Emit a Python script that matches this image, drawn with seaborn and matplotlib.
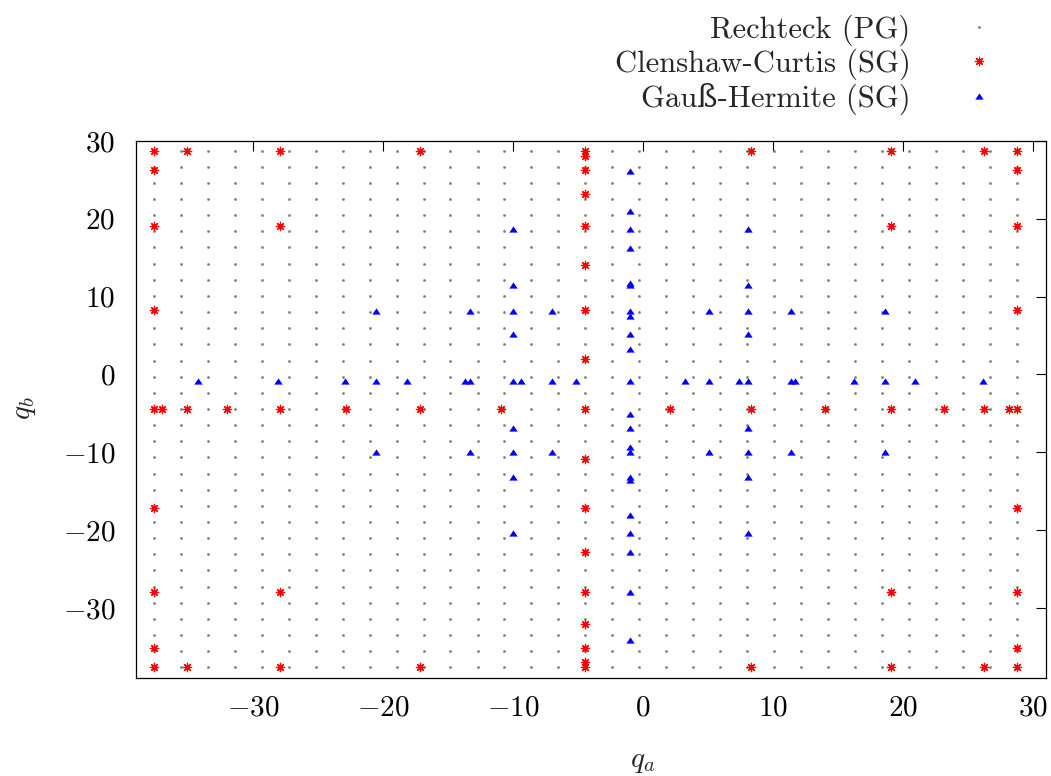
import matplotlib
matplotlib.use("Agg")
import matplotlib.pyplot as plt
import numpy as np
import pandas as pd
import seaborn as sns

# %% data
# Rechteck (PG): full grid, 33 equally spaced nodes per direction
rect_nodes = [-37.63, -35.56, -33.48, -31.41, -29.33, -27.26, -25.18, -23.11,
              -21.03, -18.96, -16.88, -14.81, -12.73, -10.66, -8.58, -6.51,
              -4.43, -2.36, -0.28, 1.79, 3.87, 5.94, 8.02, 10.09, 12.17,
              14.24, 16.32, 18.39, 20.47, 22.54, 24.62, 26.69, 28.77]

# Clenshaw-Curtis (SG)
cc_qa = [-4.43, -4.43, -4.43, -4.43, -4.43, -4.43, -4.43, -4.43, -4.43,
         -4.43, -4.43, -4.43, -4.43, -4.43, -4.43, -4.43, -4.43,
         -37.63, -36.99, -35.10, -32.03, -27.91, -22.87, -17.13, -10.91,
         2.05, 8.27, 14.01, 19.05, 23.17, 26.24, 28.13, 28.77,
         -37.63, -37.63, -37.63, -37.63, -37.63, -37.63, -37.63, -37.63,
         28.77, 28.77, 28.77, 28.77, 28.77, 28.77, 28.77, 28.77,
         -27.91, -27.91, -27.91, -27.91,
         19.05, 19.05, 19.05, 19.05,
         -35.10, -35.10, -17.13, -17.13, 8.27, 8.27, 26.24, 26.24]
cc_qb = [28.77, 28.13, 26.24, 23.17, 19.05, 14.01, 8.27, 2.05, -4.43,
         -10.91, -17.13, -22.87, -27.91, -32.03, -35.10, -36.99, -37.63,
         -4.43, -4.43, -4.43, -4.43, -4.43, -4.43, -4.43, -4.43,
         -4.43, -4.43, -4.43, -4.43, -4.43, -4.43, -4.43, -4.43,
         28.77, 26.24, 19.05, 8.27, -17.13, -27.91, -35.10, -37.63,
         28.77, 26.24, 19.05, 8.27, -17.13, -27.91, -35.10, -37.63,
         28.77, 19.05, -27.91, -37.63,
         28.77, 19.05, -27.91, -37.63,
         28.77, -37.63, 28.77, -37.63, 28.77, -37.63, 28.77, -37.63]

# Gauss-Hermite (SG)
gh_qa = [-34.21, -28.08, -22.89, -20.56, -18.15, -13.68, -13.33, -10.02,
         -9.37, -7.00, -5.15, -0.97, 3.20, 5.05, 7.42, 8.07, 11.38, 11.73,
         16.20, 18.61, 20.94, 26.13,
         -0.97, -0.97, -0.97, -0.97, -0.97, -0.97, -0.97, -0.97, -0.97,
         -0.97, -0.97, -0.97, -0.97, -0.97, -0.97, -0.97, -0.97, -0.97,
         -0.97, -0.97, -0.97,
         -10.02, -10.02, -10.02, -10.02, -10.02, -10.02, -10.02, -10.02,
         8.07, 8.07, 8.07, 8.07, 8.07, 8.07, 8.07, 8.07,
         -20.56, -13.33, -7.00, 5.05, 11.38, 18.61,
         -20.56, -13.33, -7.00, 5.05, 11.38, 18.61]
gh_qb = [-0.87, -0.87, -0.87, -0.87, -0.87, -0.87, -0.87, -0.87,
         -0.87, -0.87, -0.87, -0.87, -0.87, -0.87, -0.87, -0.87, -0.87, -0.87,
         -0.87, -0.87, -0.87, -0.87,
         26.20, 21.01, 18.69, 16.28, 11.81, 11.47, 8.16, 7.52, 5.15,
         3.30, -5.04, -6.89, -9.26, -9.90, -13.21, -13.55, -18.02, -20.43,
         -22.75, -27.94, -34.06,
         18.69, 11.47, 8.16, 5.15, -6.89, -9.90, -13.21, -20.43,
         18.69, 11.47, 8.16, 5.15, -6.89, -9.90, -13.21, -20.43,
         8.16, 8.16, 8.16, 8.16, 8.16, 8.16,
         -9.90, -9.90, -9.90, -9.90, -9.90, -9.90]

ticks = [-30, -20, -10, 0, 10, 20, 30]
labels = ['Rechteck (PG)', 'Clenshaw-Curtis (SG)', 'Gauß-Hermite (SG)']

# %% tables
qa_grid, qb_grid = np.meshgrid(rect_nodes, rect_nodes)
rect_df = pd.DataFrame({'q_a': qa_grid.ravel(), 'q_b': qb_grid.ravel()})
cc_df = pd.DataFrame({'q_a': cc_qa, 'q_b': cc_qb})
gh_df = pd.DataFrame({'q_a': gh_qa, 'q_b': gh_qb})

# %% plot
sns.set_style('white')
plt.rcParams.update({
    'font.family': ['cmr10', 'DejaVu Serif'],
    'mathtext.fontset': 'cm',
    'axes.formatter.use_mathtext': True,
    'font.size': 21,
    'axes.edgecolor': 'black',
    'axes.linewidth': 0.9,
})

W, H = 1051, 776
fig = plt.figure(figsize=(W / 100, H / 100), dpi=100)
ax = fig.add_axes([136 / W, 1 - 678 / H, (1046 - 136) / W, (678 - 141) / H])

tri = [(-1, -0.75), (1, -0.75), (0, 0.75), (-1, -0.75)]

sns.scatterplot(data=rect_df, x='q_a', y='q_b', ax=ax, color='#7f7f7f',
                marker='o', s=4, linewidth=0, label=labels[0], zorder=2)
sns.scatterplot(data=cc_df, x='q_a', y='q_b', ax=ax, color='#ff0000',
                marker=(8, 2, 0), s=36, linewidth=0.9, label=labels[1], zorder=3)
sns.scatterplot(data=gh_df, x='q_a', y='q_b', ax=ax, color='#0000ff',
                marker=tri, s=36, linewidth=0, label=labels[2], zorder=4)

ax.set_xlim(-39, 31)
ax.set_ylim(-39, 30)
ax.set_xticks(ticks)
ax.set_yticks(ticks)
ax.tick_params(direction='in', length=7, width=0.8, colors='black',
               top=True, right=True, labelsize=21)
ax.tick_params(axis='x', pad=12)
ax.tick_params(axis='y', pad=15)
for s in ax.spines.values():
    s.set_visible(True)
    s.set_color('black')

ax.set_xlabel('$q_a$', fontsize=21, va='center')
ax.xaxis.set_label_coords((643 - 136) / 910, (678 - 762) / 537)
ax.set_ylabel('$q_b$', fontsize=21, va='center')
ax.yaxis.set_label_coords((25 - 136) / 910, (678 - 408) / 537)

# gnuplot-like key: text right-aligned, sample on the right
ax.legend(loc='upper right', bbox_to_anchor=(1010 / W, 1 - 14.5 / H),
          bbox_transform=fig.transFigure, frameon=False, markerfirst=False,
          handletextpad=1.25, handlelength=2, labelspacing=0.08,
          borderpad=0, borderaxespad=0, fontsize=22,
          scatterpoints=1, scatteryoffsets=[0.5])

fig.savefig('out.png', dpi=100)
